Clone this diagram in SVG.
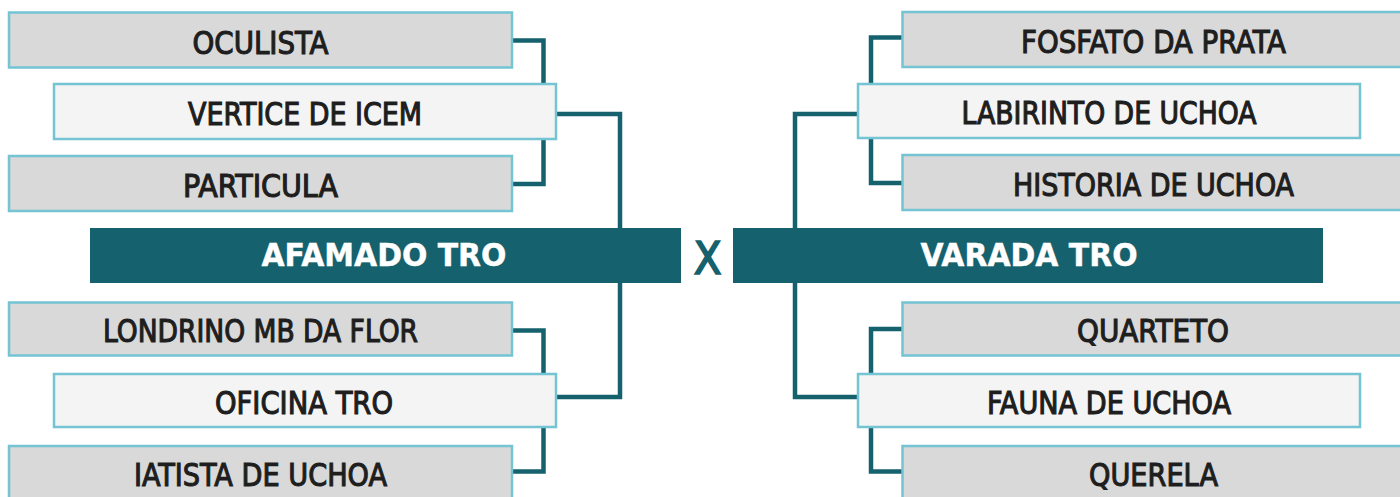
<svg xmlns="http://www.w3.org/2000/svg" width="1400" height="497" viewBox="0 0 1400 497">
<style>
.conn{fill:none;stroke:#15616d;stroke-width:4.5;stroke-linejoin:miter}
.outer{fill:#d9d9d9;stroke:#74c4d3;stroke-width:2.5}
.inner{fill:#f4f4f4;stroke:#74c4d3;stroke-width:2.5}
.bar{fill:#15616d}
.lbl{font-family:"DejaVu Sans Condensed","DejaVu Sans","Liberation Sans",sans-serif;font-size:32px;fill:#1e1e1e;stroke:#1e1e1e;stroke-width:1.1;text-anchor:middle}
.head{font-family:"DejaVu Sans Condensed","DejaVu Sans","Liberation Sans",sans-serif;font-weight:bold;font-size:32px;fill:#ffffff;stroke:#ffffff;stroke-width:0.4;text-anchor:middle}
.vs{font-family:"DejaVu Sans Condensed","DejaVu Sans","Liberation Sans",sans-serif;font-size:45px;fill:#15616d;stroke:#15616d;stroke-width:1.6;text-anchor:middle}
</style>
<rect width="1400" height="497" fill="#ffffff"/>
<g id="connectors">
<path class="conn" d="M512,40.5 H543.5 V184 H512"/>
<path class="conn" d="M556,114 H620 V397 H556"/>
<path class="conn" d="M512,330.5 H543.5 V471.5 H512"/>
<path class="conn" d="M902,37.5 H871 V183 H902"/>
<path class="conn" d="M858,114 H795 V397 H858"/>
<path class="conn" d="M902,329 H871 V471.5 H902"/>
</g>
<g id="oculista"><rect class="outer" x="9" y="12.5" width="503" height="55"/><text class="lbl" x="260.5" y="53.5" textLength="136" lengthAdjust="spacingAndGlyphs">OCULISTA</text></g>
<g id="vertice"><rect class="inner" x="54" y="84" width="502" height="55"/><text class="lbl" x="305" y="124.5" textLength="234" lengthAdjust="spacingAndGlyphs">VERTICE DE ICEM</text></g>
<g id="particula"><rect class="outer" x="9" y="156" width="503" height="55"/><text class="lbl" x="260.5" y="197" textLength="155" lengthAdjust="spacingAndGlyphs">PARTICULA</text></g>
<g id="afamado"><rect class="bar" x="90" y="228" width="591" height="55"/><text class="head" x="384" y="266" textLength="245" lengthAdjust="spacingAndGlyphs">AFAMADO TRO</text></g>
<g id="londrino"><rect class="outer" x="9" y="302.5" width="503" height="53"/><text class="lbl" x="260.5" y="341.5" textLength="315" lengthAdjust="spacingAndGlyphs">LONDRINO MB DA FLOR</text></g>
<g id="oficina"><rect class="inner" x="54" y="374" width="502" height="53"/><text class="lbl" x="304" y="413.5" textLength="178" lengthAdjust="spacingAndGlyphs">OFICINA TRO</text></g>
<g id="iatista"><rect class="outer" x="9" y="446" width="503" height="55"/><text class="lbl" x="260.5" y="485.5" textLength="253" lengthAdjust="spacingAndGlyphs">IATISTA DE UCHOA</text></g>
<g id="vs"><text class="vs" x="707.5" y="273.5">X</text></g>
<g id="fosfato"><rect class="outer" x="902.5" y="12" width="503" height="55"/><text class="lbl" x="1153.5" y="52.5" textLength="265" lengthAdjust="spacingAndGlyphs">FOSFATO DA PRATA</text></g>
<g id="labirinto"><rect class="inner" x="858" y="84" width="502" height="54"/><text class="lbl" x="1109" y="124" textLength="295" lengthAdjust="spacingAndGlyphs">LABIRINTO DE UCHOA</text></g>
<g id="historia"><rect class="outer" x="902.5" y="155" width="503" height="55"/><text class="lbl" x="1153.5" y="196" textLength="281" lengthAdjust="spacingAndGlyphs">HISTORIA DE UCHOA</text></g>
<g id="varada"><rect class="bar" x="733" y="228" width="590" height="55"/><text class="head" x="1029" y="266" textLength="217" lengthAdjust="spacingAndGlyphs">VARADA TRO</text></g>
<g id="quarteto"><rect class="outer" x="902.5" y="302.5" width="503" height="53"/><text class="lbl" x="1153" y="341.5" textLength="152" lengthAdjust="spacingAndGlyphs">QUARTETO</text></g>
<g id="fauna"><rect class="inner" x="858" y="374" width="502" height="53"/><text class="lbl" x="1109" y="413.5" textLength="244" lengthAdjust="spacingAndGlyphs">FAUNA DE UCHOA</text></g>
<g id="querela"><rect class="outer" x="902.5" y="446" width="503" height="55"/><text class="lbl" x="1153.5" y="485.5" textLength="129" lengthAdjust="spacingAndGlyphs">QUERELA</text></g>
</svg>
